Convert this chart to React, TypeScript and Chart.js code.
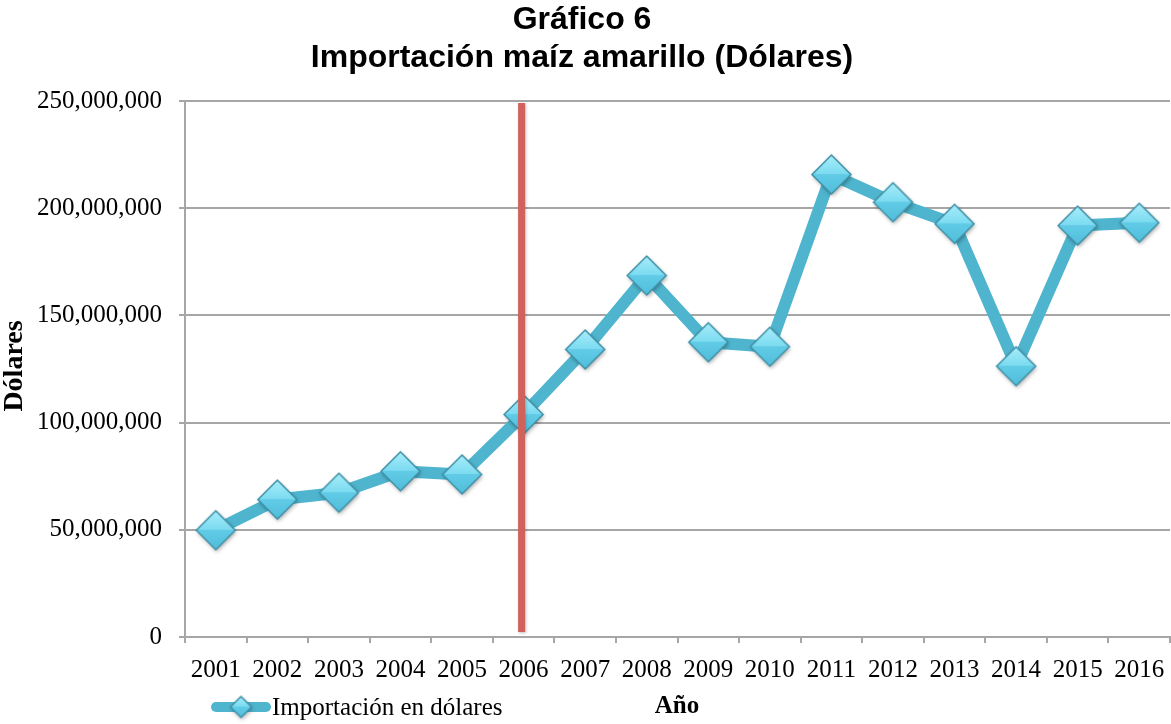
import React, { useEffect, useRef } from "react";
import { Chart, registerables } from "chart.js";

Chart.register(...registerables);

const years = ["2001", "2002", "2003", "2004", "2005", "2006", "2007", "2008", "2009", "2010", "2011", "2012", "2013", "2014", "2015", "2016"];
const importUSD = [49800000, 64100000, 67300000, 77300000, 75800000, 103800000, 134100000, 168600000, 137500000, 135400000, 215700000, 202800000, 192700000, 126300000, 191900000, 193200000];
const yMin = 0;
const yMax = 250000000;
const yStep = 50000000;
const seriesLabel = "Importación en dólares";
const titleLines = ["Gráfico 6", "Importación maíz amarillo (Dólares)"];
const yAxisTitle = "Dólares";
const xAxisTitle = "Año";
const markerYear = "2006";

const LINE_COLOR = "#4FB5CE";
const GRID_COLOR = "#A6A6A6";
const RED_COLOR = "#CF625B";
const SERIF = '"Liberation Serif", "Times New Roman", serif';
const SANS = '"Liberation Sans", Arial, sans-serif';

function makeDiamond(r: number): HTMLCanvasElement {
  const pad = 6;
  const c = document.createElement("canvas");
  const size = Math.ceil(2 * r + 2 * pad);
  c.width = size;
  c.height = size;
  const g = c.getContext("2d")!;
  const cx = size / 2;
  const cy = size / 2;
  const path = () => {
    g.beginPath();
    g.moveTo(cx, cy - r);
    g.lineTo(cx + r, cy);
    g.lineTo(cx, cy + r);
    g.lineTo(cx - r, cy);
    g.closePath();
  };
  g.save();
  g.shadowColor = "rgba(0,0,0,0.35)";
  g.shadowBlur = 4;
  g.shadowOffsetX = 1;
  g.shadowOffsetY = 2;
  path();
  g.fillStyle = "#5CC8E3";
  g.fill();
  g.restore();
  const grad = g.createLinearGradient(0, cy - r, 0, cy + r);
  grad.addColorStop(0, "#A8EEFB");
  grad.addColorStop(0.5, "#7ADAF0");
  grad.addColorStop(0.5, "#62CCE7");
  grad.addColorStop(1, "#50BDDA");
  path();
  g.fillStyle = grad;
  g.fill();
  g.lineWidth = 1.5;
  g.strokeStyle = "#3E8FA5";
  path();
  g.stroke();
  return c;
}

export default function App() {
  const ref = useRef<HTMLCanvasElement | null>(null);

  useEffect(() => {
    document.body.style.margin = "0";
    const canvas = ref.current;
    if (!canvas) return;
    const bigDiamond = makeDiamond(19.5);
    const smallDiamond = makeDiamond(10.5);

    const decor = {
      id: "decor",
      afterDatasetsDraw(chart: any) {
        const { ctx, chartArea, scales } = chart;
        const x = scales.x.getPixelForValue(years.indexOf(markerYear)) - 2;
        ctx.save();
        ctx.shadowColor = "rgba(0,0,0,0.25)";
        ctx.shadowBlur = 3;
        ctx.shadowOffsetX = 1;
        ctx.shadowOffsetY = 1;
        ctx.fillStyle = RED_COLOR;
        ctx.fillRect(x - 3.5, chartArea.top + 2, 7, chartArea.bottom - chartArea.top - 7);
        ctx.restore();
      },
      afterDraw(chart: any) {
        const { ctx } = chart;
        ctx.save();
        ctx.fillStyle = "#000";
        ctx.textAlign = "center";
        ctx.textBaseline = "middle";
        ctx.font = `bold 32px ${SANS}`;
        ctx.fillText(titleLines[0], 582, 20);
        ctx.fillText(titleLines[1], 582, 58);
        ctx.save();
        ctx.translate(15, 366);
        ctx.rotate(-Math.PI / 2);
        ctx.font = `bold 28px ${SERIF}`;
        ctx.fillText(yAxisTitle, 0, 0);
        ctx.restore();
        ctx.font = `bold 25px ${SERIF}`;
        ctx.fillText(xAxisTitle, 677, 707);
        ctx.strokeStyle = LINE_COLOR;
        ctx.lineWidth = 10;
        ctx.lineCap = "round";
        ctx.beginPath();
        ctx.moveTo(216, 707);
        ctx.lineTo(266, 707);
        ctx.stroke();
        ctx.drawImage(smallDiamond, 241 - smallDiamond.width / 2, 707 - smallDiamond.height / 2);
        ctx.textAlign = "left";
        ctx.font = `25px ${SERIF}`;
        ctx.fillText(seriesLabel, 272, 708);
        ctx.restore();
      },
    };

    const chart = new Chart(canvas, {
      type: "line",
      data: {
        labels: years,
        datasets: [
          {
            label: seriesLabel,
            data: importUSD,
            borderColor: LINE_COLOR,
            backgroundColor: LINE_COLOR,
            borderWidth: 12,
            borderJoinStyle: "round",
            tension: 0,
            pointStyle: bigDiamond as any,
            pointRadius: 19,
            fill: false,
          },
        ],
      },
      options: {
        animation: false,
        responsive: false,
        events: [],
        layout: { autoPadding: false, padding: { left: 0, right: 1, top: 101, bottom: 0 } },
        plugins: {
          legend: { display: false },
          title: { display: false },
          tooltip: { enabled: false },
        },
        scales: {
          x: {
            type: "category",
            offset: true,
            afterFit: (s: any) => {
              s.height = 87;
              s.paddingLeft = 0;
              s.paddingRight = 0;
            },
            grid: {
              offset: true,
              drawOnChartArea: false,
              drawTicks: true,
              tickLength: 6,
              color: GRID_COLOR,
              lineWidth: 2,
            },
            border: { display: true, color: GRID_COLOR, width: 2 },
            ticks: {
              font: { family: SERIF, size: 25 },
              color: "#000",
              padding: 12,
              maxRotation: 0,
              autoSkip: false,
            },
          },
          y: {
            min: yMin,
            max: yMax,
            afterFit: (s: any) => {
              s.width = 185;
              s.paddingTop = 0;
              s.paddingBottom = 0;
            },
            grid: {
              drawTicks: true,
              tickLength: 6,
              color: GRID_COLOR,
              lineWidth: 2,
            },
            border: { display: true, color: GRID_COLOR, width: 2 },
            ticks: {
              stepSize: yStep,
              font: { family: SERIF, size: 25 },
              color: "#000",
              padding: 17,
              callback: (v: any) => Number(v).toLocaleString("en-US"),
            },
          },
        },
      },
      plugins: [decor],
    });
    return () => chart.destroy();
  }, []);

  return (
    <div style={{ width: 1171, height: 724 }}>
      <canvas ref={ref} width={1171} height={724} style={{ display: "block" }} />
    </div>
  );
}
